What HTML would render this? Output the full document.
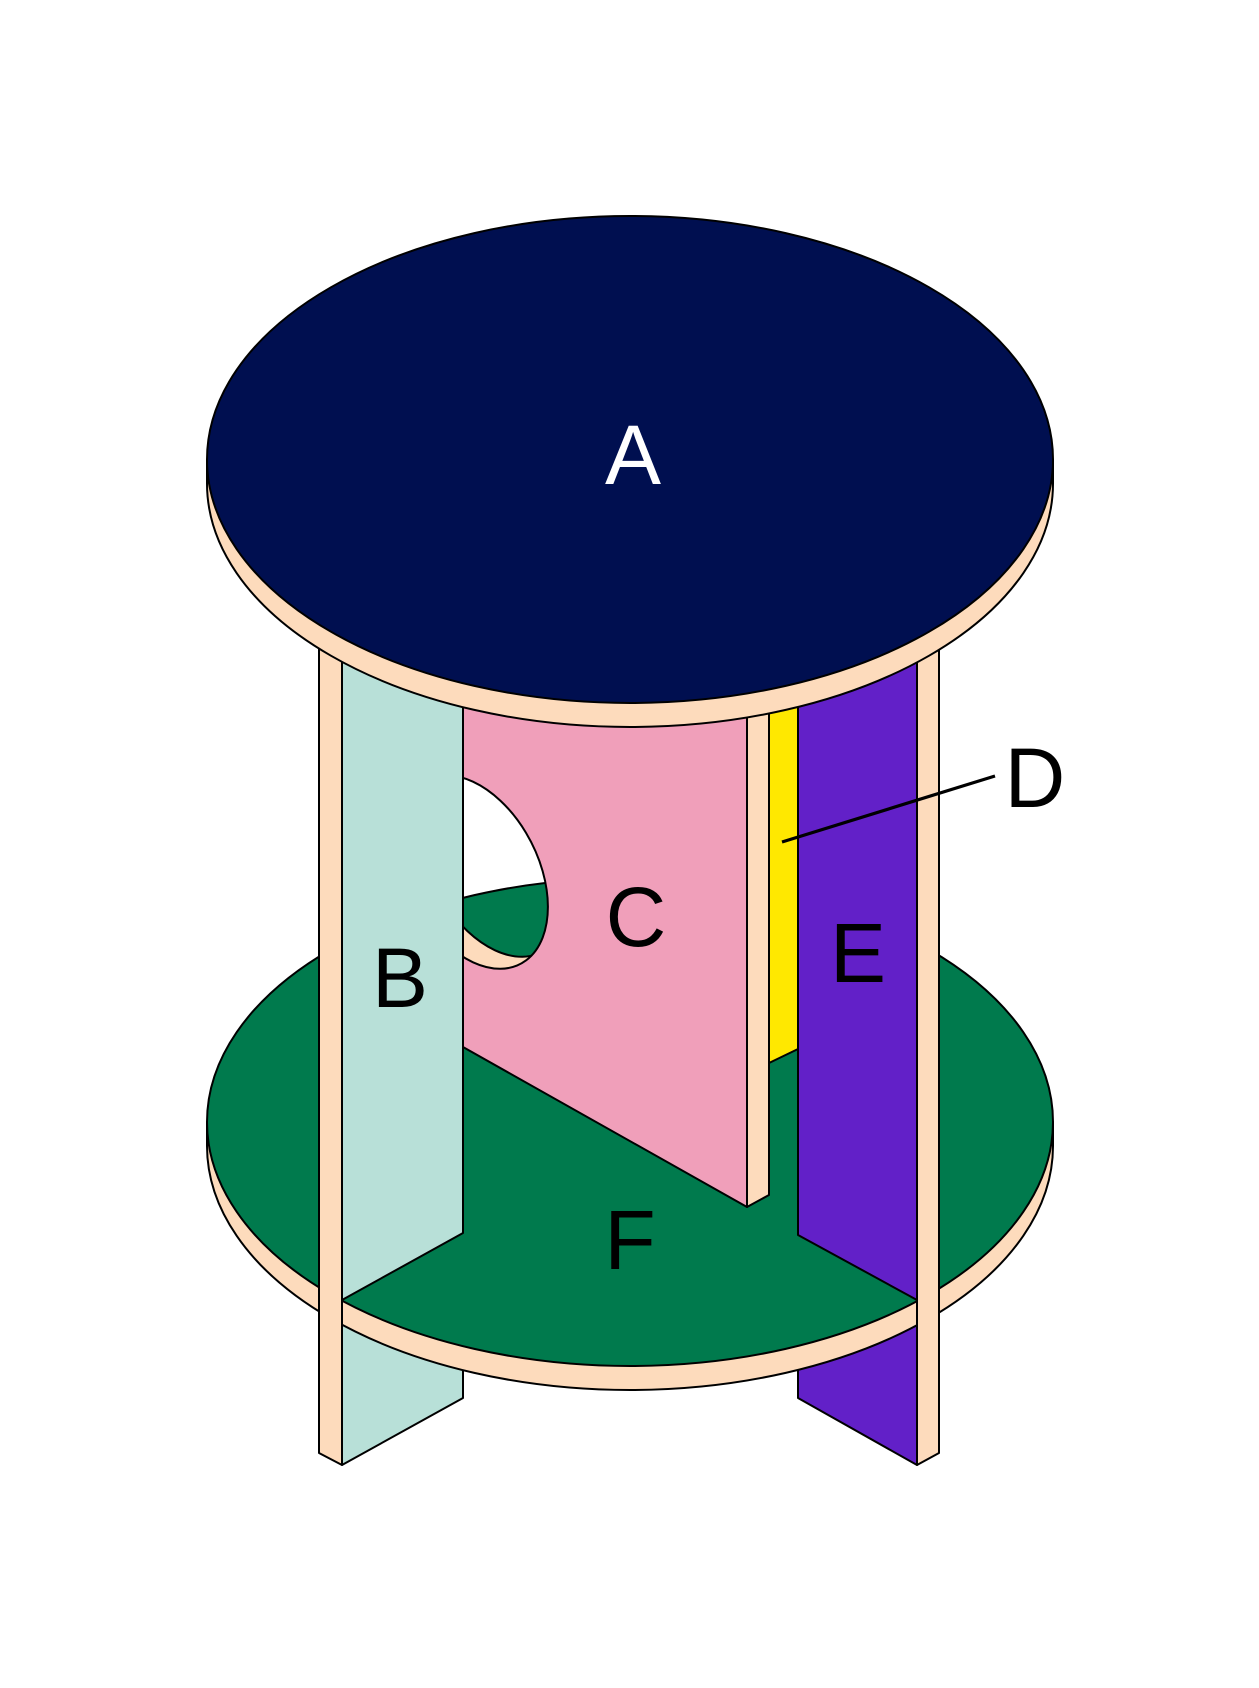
<!DOCTYPE html>
<html>
<head>
<meta charset="utf-8">
<style>
  html, body { margin: 0; padding: 0; background: #ffffff; }
  svg { display: block; }
  text { font-family: "Liberation Sans", Arial, sans-serif; font-size: 84px; }
</style>
</head>
<body>
<svg width="1259" height="1688" viewBox="0 0 1259 1688" xmlns="http://www.w3.org/2000/svg">
  <defs>
    <clipPath id="hf"><circle r="1" transform="matrix(74.9 34.8 0 90.3 473 872)"/></clipPath>
    <clipPath id="hb"><circle r="1" transform="matrix(74.9 34.8 0 90.3 495 860)"/></clipPath>
  </defs>
  <rect x="0" y="0" width="1259" height="1688" fill="#ffffff"/>

  <g stroke="#000" stroke-width="2" stroke-linejoin="round">
    <!-- lower parts of panels below bottom plate -->
    <polygon points="342,1290 463,1225 463,1398 342,1465" fill="#B8E0D8"/>
    <polygon points="798,1225 917,1290 917,1465 798,1398" fill="#6220C8"/>

    <!-- bottom plate -->
    <path d="M207,1122 V1146 A423,244 0 0 0 1053,1146 V1122 Z" fill="#FDDBBC"/>
    <ellipse cx="630" cy="1122" rx="423" ry="244" fill="#007A4D"/>

    <!-- yellow D -->
    <polygon points="769,600 798,600 798,1049 769,1063" fill="#FFE800"/>
    <!-- purple E upper -->
    <polygon points="798,600 917,600 917,1300 798,1235" fill="#6220C8"/>
    <!-- pink edge strip -->
    <polygon points="747,600 769,600 769,1195 747,1207" fill="#FDDBBC"/>
    <!-- pink C -->
    <polygon points="463,600 747,600 747,1207 463,1047" fill="#F09FBA"/>
  </g>

  <!-- hole in pink panel -->
  <g clip-path="url(#hf)">
    <rect x="380" y="740" width="220" height="260" fill="#FDDBBC"/>
    <g clip-path="url(#hb)">
      <rect x="380" y="740" width="220" height="260" fill="#ffffff"/>
      <ellipse cx="630" cy="1122" rx="423" ry="244" fill="#007A4D" stroke="#000" stroke-width="2"/>
    </g>
    <circle r="1" transform="matrix(74.9 34.8 0 90.3 495 860)" fill="none" stroke="#000" stroke-width="2" vector-effect="non-scaling-stroke"/>
  </g>
  <circle r="1" transform="matrix(74.9 34.8 0 90.3 473 872)" fill="none" stroke="#000" stroke-width="2" vector-effect="non-scaling-stroke"/>

  <g stroke="#000" stroke-width="2" stroke-linejoin="round">
    <!-- mint B upper -->
    <polygon points="342,600 463,600 463,1233 342,1300" fill="#B8E0D8"/>
    <!-- legs -->
    <polygon points="319,600 342,600 342,1465 319,1453" fill="#FDDBBC"/>
    <polygon points="917,600 939,600 939,1453 917,1465" fill="#FDDBBC"/>

    <!-- top plate -->
    <path d="M207,459.5 V483.5 A423,243.5 0 0 0 1053,483.5 V459.5 Z" fill="#FDDBBC"/>
    <ellipse cx="630" cy="459.5" rx="423" ry="243.5" fill="#000F50"/>
  </g>

  <!-- leader line for D -->
  <line x1="782" y1="842" x2="995" y2="776" stroke="#000" stroke-width="3.2"/>

  <!-- labels -->
  <text x="633" y="484" text-anchor="middle" fill="#ffffff">A</text>
  <text x="400" y="1007" text-anchor="middle" fill="#000">B</text>
  <text x="636" y="946" text-anchor="middle" fill="#000">C</text>
  <text x="1035" y="807" text-anchor="middle" fill="#000">D</text>
  <text x="858" y="982" text-anchor="middle" fill="#000">E</text>
  <text x="630" y="1269" text-anchor="middle" fill="#000">F</text>
</svg>
</body>
</html>
